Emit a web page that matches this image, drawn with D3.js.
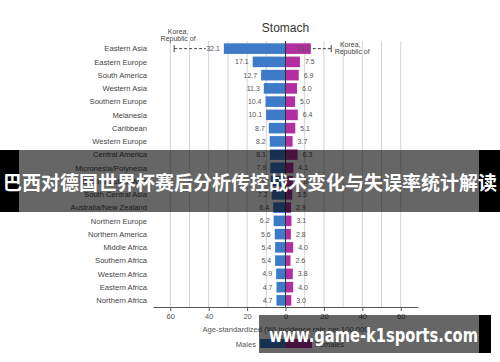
<!DOCTYPE html>
<html>
<head>
<meta charset="utf-8">
<script src="https://cdn.jsdelivr.net/npm/d3@7"></script>
<style>
  body { margin: 0; background: #fff; }
  svg { display: block; font-family: "Liberation Sans", Arial, sans-serif; }
</style>
</head>
<body>
<script>
// chart data
var regions = ["Eastern Asia", "Eastern Europe", "South America", "Western Asia", "Southern Europe",
  "Melanesia", "Caribbean", "Western Europe", "Central America", "Micronesia/Polynesia",
  "South-Eastern Asia", "South Central Asia", "Australia/New Zealand", "Northern Europe",
  "Northern America", "Middle Africa", "Southern Africa", "Western Africa", "Eastern Africa", "Northern Africa"];
var males = [32.1, 17.1, 12.7, 11.3, 10.4, 10.1, 8.7, 8.2, 8.1, 7.9, 7.6, 7.2, 6.4, 6.2, 5.6, 5.4, 5.4, 4.9, 4.7, 4.7];
var females = [13.2, 7.5, 6.9, 6.0, 5.0, 6.4, 5.1, 3.7, 6.3, 4.1, 3.9, 3.5, 2.9, 3.1, 2.8, 4.0, 2.6, 3.8, 4.0, 3.0];
var koreaMale = 58.0;
var koreaFemale = 23.8;
var tickVals = [-60, -40, -20, 0, 20, 40, 60];
var gridVals = [-60, -50, -40, -30, -20, -10, 10, 20, 30, 40, 50, 60];
var bannerText = "巴西对德国世界杯赛后分析传控战术变化与失误率统计解读";
var siteText = "www.game-k1sports.com";

var W = 500, H = 362;
var blue = "#3d7bc8", magenta = "#b32ea0";

var svg = d3.select("body").append("svg")
  .attr("width", W)
  .attr("height", H);

var x = d3.scaleLinear().domain([-69, 69]).range([153, 418]);
var y = d3.scaleBand().domain(regions).range([42, 307]).paddingInner(0.2).paddingOuter(0.1);

// grid
svg.selectAll("line.grid")
  .data(gridVals)
  .enter()
  .append("line")
  .attr("class", "grid")
  .attr("x1", function(d) { return x(d); })
  .attr("x2", function(d) { return x(d); })
  .attr("y1", 41)
  .attr("y2", 307)
  .attr("stroke", "#d4d4d4")
  .attr("stroke-width", 1);

// title
svg.append("text")
  .attr("x", x(0))
  .attr("y", 32)
  .attr("text-anchor", "middle")
  .attr("font-size", "12px")
  .attr("fill", "#333")
  .text("Stomach");

// bars
var rows = regions.map(function(r, i) { return { region: r, m: males[i], f: females[i] }; });

svg.selectAll("rect.male")
  .data(rows)
  .enter()
  .append("rect")
  .attr("x", function(d) { return x(-d.m); })
  .attr("y", function(d) { return y(d.region); })
  .attr("width", function(d) { return x(0) - x(-d.m); })
  .attr("height", y.bandwidth())
  .attr("fill", blue);

svg.selectAll("rect.female")
  .data(rows)
  .enter()
  .append("rect")
  .attr("x", x(0))
  .attr("y", function(d) { return y(d.region); })
  .attr("width", function(d) { return x(d.f) - x(0); })
  .attr("height", y.bandwidth())
  .attr("fill", magenta);

// zero line
svg.append("line")
  .attr("x1", x(0)).attr("x2", x(0))
  .attr("y1", 41).attr("y2", 307)
  .attr("stroke", "#333")
  .attr("stroke-width", 1);

// category labels
svg.selectAll("text.cat")
  .data(rows)
  .enter()
  .append("text")
  .attr("x", 147)
  .attr("y", function(d) { return y(d.region) + y.bandwidth() / 2 + 2.7; })
  .attr("text-anchor", "end")
  .attr("font-size", "7.6px")
  .attr("fill", "#444")
  .text(function(d) { return d.region; });

// value labels
svg.selectAll("text.mval")
  .data(rows)
  .enter()
  .append("text")
  .attr("x", function(d) { return x(-d.m) - 4; })
  .attr("y", function(d) { return y(d.region) + y.bandwidth() / 2 + 2.5; })
  .attr("text-anchor", "end")
  .attr("font-size", "7px")
  .attr("fill", "#555")
  .text(function(d) { return d.m.toFixed(1); });

svg.selectAll("text.fval")
  .data(rows)
  .enter()
  .append("text")
  .attr("x", function(d, i) { return i === 0 ? x(d.f) - 1 : x(d.f) + 5; })
  .attr("y", function(d) { return y(d.region) + y.bandwidth() / 2 + 2.5; })
  .attr("text-anchor", function(d, i) { return i === 0 ? "end" : "start"; })
  .attr("font-size", "7px")
  .attr("fill", "#555")
  .text(function(d) { return d.f.toFixed(1); });

// Korea annotations
var ky = y(regions[0]) + y.bandwidth() / 2;
svg.append("line")
  .attr("x1", x(-koreaMale)).attr("x2", x(-males[0]) - 18)
  .attr("y1", ky).attr("y2", ky)
  .attr("stroke", "#444").attr("stroke-dasharray", "3,2");
svg.append("line")
  .attr("x1", x(-koreaMale)).attr("x2", x(-koreaMale))
  .attr("y1", ky - 3.5).attr("y2", ky + 3.5)
  .attr("stroke", "#444");
svg.append("line")
  .attr("x1", x(females[0]) + 2).attr("x2", x(koreaFemale))
  .attr("y1", ky).attr("y2", ky)
  .attr("stroke", "#444").attr("stroke-dasharray", "3,2");
svg.append("line")
  .attr("x1", x(koreaFemale)).attr("x2", x(koreaFemale))
  .attr("y1", ky - 3.5).attr("y2", ky + 3.5)
  .attr("stroke", "#444");

var kl = svg.append("text")
  .attr("y", 34)
  .attr("text-anchor", "middle")
  .attr("font-size", "7px")
  .attr("fill", "#444");
kl.append("tspan").attr("x", x(-koreaMale) + 4).attr("dy", 0).text("Korea,");
kl.append("tspan").attr("x", x(-koreaMale) + 4).attr("dy", 7.2).text("Republic of");

var kr = svg.append("text")
  .attr("y", 46.5)
  .attr("text-anchor", "middle")
  .attr("font-size", "7px")
  .attr("fill", "#444");
kr.append("tspan").attr("x", x(koreaFemale) + 19).attr("dy", 0).text("Korea,");
kr.append("tspan").attr("x", x(koreaFemale) + 21).attr("dy", 7.2).text("Republic of");

// axis
var axis = d3.axisBottom(x)
  .tickValues(tickVals)
  .tickFormat(function(d) { return Math.abs(d); })
  .tickSize(4)
  .tickSizeOuter(0);

var ga = svg.append("g")
  .attr("transform", "translate(0,307)")
  .call(axis);
ga.select(".domain").attr("stroke", "#555");
ga.selectAll(".tick line").attr("stroke", "#555");
ga.selectAll(".tick text")
  .attr("font-family", "Liberation Sans, Arial, sans-serif")
  .attr("font-size", "7.5px")
  .attr("fill", "#555");

svg.append("text")
  .attr("x", x(0))
  .attr("y", 332)
  .attr("text-anchor", "middle")
  .attr("font-size", "7.6px")
  .attr("fill", "#555")
  .text("Age-standardized (W) incidence rate per 100,000");

// legend
svg.append("text")
  .attr("x", 256)
  .attr("y", 347)
  .attr("text-anchor", "end")
  .attr("font-size", "7.6px")
  .attr("fill", "#555")
  .text("Males");
svg.append("rect")
  .attr("x", 260).attr("y", 339).attr("width", 26).attr("height", 9)
  .attr("fill", blue);
svg.append("rect")
  .attr("x", 286).attr("y", 339).attr("width", 26).attr("height", 9)
  .attr("fill", magenta);
svg.append("text")
  .attr("x", 315)
  .attr("y", 347)
  .attr("font-size", "7.6px")
  .attr("fill", "#555")
  .text("Females");

// banner overlay (translucent, chart shows through)
svg.append("rect")
  .attr("x", 0).attr("y", 150).attr("width", 19).attr("height", 62)
  .attr("fill", "#000");
svg.append("rect")
  .attr("x", 479).attr("y", 150).attr("width", 21).attr("height", 62)
  .attr("fill", "#000");
svg.append("rect")
  .attr("x", 19).attr("y", 150).attr("width", 460).attr("height", 62)
  .attr("fill", "rgba(0,0,0,0.6)");
svg.append("text")
  .attr("x", 3)
  .attr("y", 189.5)
  .attr("font-family", "Noto Sans CJK SC, sans-serif")
  .attr("font-weight", "bold")
  .attr("font-size", "19px")
  .attr("fill", "#fff")
  .attr("textLength", 494)
  .attr("lengthAdjust", "spacingAndGlyphs")
  .text(bannerText);

// site watermark
svg.append("rect")
  .attr("x", 479).attr("y", 315).attr("width", 12).attr("height", 38)
  .attr("fill", "#000");
svg.append("rect")
  .attr("x", 259).attr("y", 315).attr("width", 220).attr("height", 38)
  .attr("fill", "rgba(0,0,0,0.6)");
svg.append("text")
  .attr("x", 269)
  .attr("y", 341.5)
  .attr("font-family", "DejaVu Sans, sans-serif")
  .attr("font-weight", "bold")
  .attr("font-size", "20px")
  .attr("fill", "#fff")
  .attr("textLength", 209)
  .attr("lengthAdjust", "spacingAndGlyphs")
  .text(siteText);
</script>
</body>
</html>
